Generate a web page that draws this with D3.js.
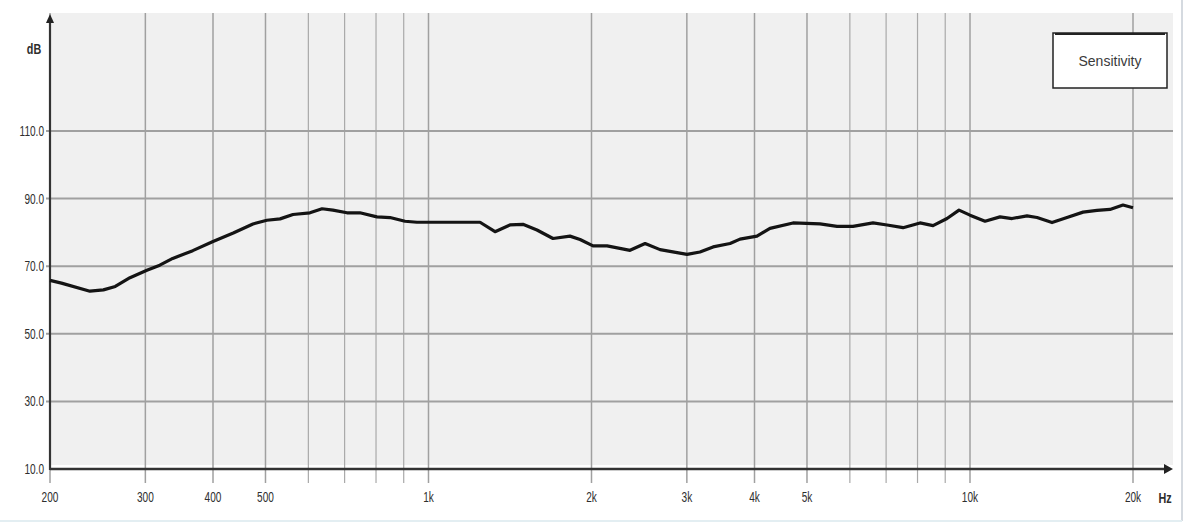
<!DOCTYPE html>
<html>
<head>
<meta charset="utf-8">
<script src="https://cdn.jsdelivr.net/npm/d3@7"></script>
<style>
  body { margin: 0; background: #fff; }
  text { font-family: "Liberation Sans", Arial, sans-serif; fill: #2e2e2e; }
</style>
</head>
<body>
<div id="chart"></div>
<script>
// frequency response
var freqs = [200, 210, 237, 251, 264, 281, 302, 319, 337, 367, 400, 436, 474, 503, 532, 562,
             604, 636, 666, 707, 747, 803, 849, 905, 952, 1245, 1327, 1414, 1494, 1586, 1698,
             1825, 1905, 2013, 2137, 2356, 2512, 2677, 3002, 3172, 3354, 3605, 3761, 4042,
             4272, 4712, 5284, 5682, 6080, 6621, 7028, 7522, 8086, 8545, 9070, 9544, 10000,
             10660, 11362, 11957, 12744, 13298, 14174, 15106, 16174, 17162, 18136, 19166, 20000];
var levels = [65.8, 65.0, 62.6, 63.0, 64.0, 66.6, 68.8, 70.3, 72.3, 74.6, 77.3, 79.8, 82.5, 83.6, 84.0, 85.3,
              85.8, 87.0, 86.6, 85.8, 85.8, 84.6, 84.4, 83.3, 83.0, 83.0, 80.2, 82.2, 82.4, 80.7, 78.2,
              78.9, 77.9, 76.0, 76.0, 74.7, 76.7, 74.9, 73.5, 74.2, 75.7, 76.7, 78.0, 78.9,
              81.2, 82.8, 82.5, 81.8, 81.8, 82.8, 82.2, 81.4, 82.8, 82.0, 84.1, 86.6, 85.1,
              83.3, 84.6, 84.1, 84.9, 84.4, 82.9, 84.4, 86.0, 86.5, 86.8, 88.1, 87.3];

var yTicks = [10, 30, 50, 70, 90, 110];
var xMajor = [200, 300, 400, 500, 1000, 2000, 3000, 4000, 5000, 10000, 20000];
var xMajorLabels = ["200", "300", "400", "500", "1k", "2k", "3k", "4k", "5k", "10k", "20k"];
var xMinor = [600, 700, 800, 900, 6000, 7000, 8000, 9000];
var seriesName = "Sensitivity";

var W = 1195, H = 529;
var plotLeft = 50, plotRight = 1133, plotBottom = 469, plotTop = 131;
var squeeze = 0.72; // the labels are drawn in a narrow face

var svg = d3.select("#chart").append("svg")
  .attr("width", W)
  .attr("height", H);

var x = d3.scaleLog().domain([200, 20000]).range([plotLeft, plotRight]);
var y = d3.scaleLinear().domain([10, 110]).range([plotBottom, plotTop]);

// plot background
svg.append("rect")
  .attr("x", plotLeft).attr("y", 13)
  .attr("width", 1173 - plotLeft).attr("height", plotBottom - 4 - 13)
  .attr("fill", "#f0f0f0");

// frame lines of the window
svg.append("line")
  .attr("x1", 1182).attr("x2", 1182).attr("y1", 0).attr("y2", 521)
  .attr("stroke", "#d5dae0").attr("stroke-width", 2);
svg.append("line")
  .attr("x1", 0).attr("x2", 1182).attr("y1", 521).attr("y2", 521)
  .attr("stroke", "#e3eef2").attr("stroke-width", 2);

// vertical grid
svg.append("g").selectAll("line")
  .data(xMinor).enter().append("line")
  .attr("x1", function(d) { return x(d); })
  .attr("x2", function(d) { return x(d); })
  .attr("y1", 13).attr("y2", plotBottom + 14)
  .attr("stroke", "#a9a9a9").attr("stroke-width", 1.2);

svg.append("g").selectAll("line")
  .data(xMajor).enter().append("line")
  .attr("x1", function(d) { return x(d); })
  .attr("x2", function(d) { return x(d); })
  .attr("y1", 13).attr("y2", plotBottom + 14)
  .attr("stroke", "#a0a0a0").attr("stroke-width", 1.5);

// horizontal grid
svg.append("g").selectAll("line")
  .data(yTicks.slice(1)).enter().append("line")
  .attr("x1", plotLeft - 4).attr("x2", 1173)
  .attr("y1", function(d) { return y(d); })
  .attr("y2", function(d) { return y(d); })
  .attr("stroke", "#a0a0a0").attr("stroke-width", 2);

// y tick labels
svg.append("g").selectAll("text")
  .data(yTicks).enter().append("text")
  .attr("transform", function(d) {
    return "translate(" + (plotLeft - 6) + "," + (y(d) + 5) + ") scale(" + squeeze + ",1)";
  })
  .attr("text-anchor", "end")
  .attr("font-size", 14)
  .text(function(d) { return d3.format(".1f")(d); });

// x tick labels
svg.append("g").selectAll("text")
  .data(xMajor).enter().append("text")
  .attr("transform", function(d) {
    return "translate(" + x(d) + "," + (plotBottom + 33) + ") scale(" + squeeze + ",1)";
  })
  .attr("text-anchor", "middle")
  .attr("font-size", 14)
  .text(function(d, i) { return xMajorLabels[i]; });

// axes with arrows
svg.append("line")
  .attr("x1", plotLeft).attr("x2", plotLeft).attr("y1", plotBottom + 1).attr("y2", 20)
  .attr("stroke", "#333").attr("stroke-width", 2.2);
svg.append("path")
  .attr("d", "M" + plotLeft + ",14 L" + (plotLeft - 4) + ",23 L" + (plotLeft + 4) + ",23 Z")
  .attr("fill", "#222");
svg.append("line")
  .attr("x1", plotLeft).attr("x2", 1166).attr("y1", plotBottom).attr("y2", plotBottom)
  .attr("stroke", "#333").attr("stroke-width", 2.5);
svg.append("path")
  .attr("d", "M1173," + plotBottom + " L1164," + (plotBottom - 5) + " L1164," + (plotBottom + 5) + " Z")
  .attr("fill", "#222");

svg.append("text")
  .attr("transform", "translate(34,54) scale(" + squeeze + ",1)")
  .attr("text-anchor", "middle")
  .attr("font-size", 15)
  .attr("font-weight", "bold")
  .text("dB");
svg.append("text")
  .attr("transform", "translate(1165," + (plotBottom + 34) + ") scale(" + squeeze + ",1)")
  .attr("text-anchor", "middle")
  .attr("font-size", 15)
  .attr("font-weight", "bold")
  .text("Hz");

// response curve
var pts = freqs.map(function(f, i) { return [f, levels[i]]; });
svg.append("path")
  .datum(pts)
  .attr("fill", "none")
  .attr("stroke", "#141414")
  .attr("stroke-width", 3.2)
  .attr("stroke-linejoin", "round")
  .attr("d", d3.line()
    .x(function(d) { return x(d[0]); })
    .y(function(d) { return y(d[1]); }));

// legend
var lg = svg.append("g").attr("transform", "translate(1053,33)");
lg.append("rect")
  .attr("width", 114).attr("height", 55)
  .attr("fill", "#fff")
  .attr("stroke", "#222").attr("stroke-width", 1.5);
lg.append("line")
  .attr("x1", 2).attr("x2", 112).attr("y1", 1).attr("y2", 1)
  .attr("stroke", "#222").attr("stroke-width", 2);
lg.append("text")
  .attr("x", 57).attr("y", 33)
  .attr("text-anchor", "middle")
  .attr("font-family", "'Open Sans', sans-serif")
  .attr("font-size", 14)
  .style("fill", "#3a3a3a")
  .text(seriesName);
</script>
</body>
</html>
